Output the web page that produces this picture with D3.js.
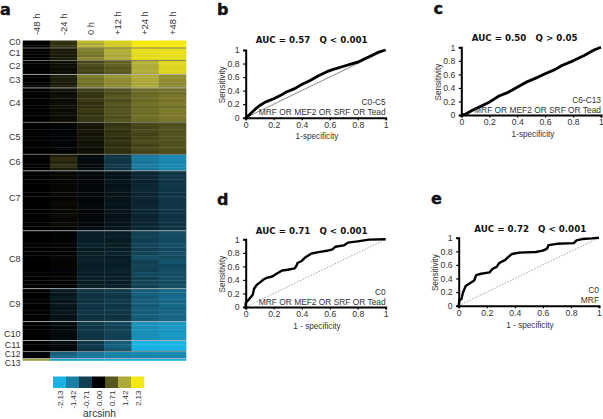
<!DOCTYPE html>
<html><head><meta charset="utf-8">
<script src="https://d3js.org/d3.v7.min.js"></script>
<style>
html,body{margin:0;padding:0;background:#fff}
svg{display:block}
text{font-family:"Liberation Sans",Arial,sans-serif;fill:#333}
</style></head><body>
<svg id="c" width="603" height="419"></svg>
<script>
const timepoints = ["-48 h","-24 h","0 h","+12 h","+24 h","+48 h"];
const clusterNames = ["C0","C1","C2","C3","C4","C5","C6","C7","C8","C9","C10","C11","C12","C13"];
const clusterSizes = [15,25,28,27,69,64,33,120,116,66,38,22,14,4];
const clusterRows = [
 [[0,.42,1.6,1.85,2.13,2.13],[0,.38,1.4,1.78,2.13,2.13],[0,.42,1.55,1.75,2.1,2.13]],
 [[0,.2,1.1,1.5,2.02,2.0],[0,.2,1.0,1.45,1.98,2.02],[0,.18,.95,1.38,1.95,1.98],[0,.22,1.15,1.48,2.0,2.0]],
 [[0,.12,.58,.8,1.5,1.95],[0,.1,.65,.82,1.45,1.92],[0,.12,.55,.72,1.42,1.88],[0,.1,.6,.76,1.48,1.92],[0,.08,.52,.7,1.45,1.88]],
 [[0,.26,1.05,1.25,1.45,1.2],[0,.22,.95,1.18,1.42,1.18],[0,.26,.98,1.15,1.4,1.15],[0,.2,.9,1.12,1.38,1.12],[0,.24,.95,1.15,1.4,1.15]],
 [[0,.14,.5,.68,.92,.95],[0,.1,.45,.62,.85,.92],[0,.13,.42,.72,.9,1.0],[0,.09,.48,.62,.86,.96],[0,.12,.42,.7,.93,1.03],[0,.13,.4,.64,.86,.92],[0,.1,.48,.7,.92,1.03],[0,.12,.42,.68,.88,1.0],[0,.09,.46,.64,.93,1.0],[0,.1,.43,.7,.9,.96]],
 [[0,-.03,.2,.42,.6,.64],[0,-.05,.16,.47,.56,.68],[0,-.05,.2,.4,.6,.66],[0,-.04,.14,.44,.53,.7],[0,-.06,.18,.38,.58,.68],[0,-.05,.12,.42,.62,.66],[0,-.04,.16,.38,.54,.68],[0,-.05,.1,.4,.6,.65],[0,-.03,.14,.38,.55,.64]],
 [[0,.25,-.08,-.6,-1.35,-1.55],[0,.38,-.12,-.62,-1.38,-1.58],[0,.3,-.1,-.58,-1.32,-1.52],[0,.4,-.08,-.64,-1.38,-1.55],[0,.22,-.13,-.6,-1.3,-1.5]],
 [[0,.04,-.08,-.22,-.42,-.6],[0,.06,-.1,-.2,-.45,-.62],[0,.03,-.07,-.25,-.4,-.58],[0,.05,-.09,-.2,-.42,-.63],[0,.04,-.07,-.24,-.45,-.6],[0,.08,-.1,-.2,-.4,-.57],[0,.03,-.06,-.22,-.44,-.62],[0,.09,-.08,-.25,-.4,-.6],[0,.05,-.1,-.2,-.42,-.58],[0,.07,-.07,-.23,-.45,-.62],[0,.1,-.07,-.2,-.4,-.58],[0,.04,-.09,-.24,-.43,-.61],[0,.08,-.08,-.2,-.4,-.57],[0,.03,-.1,-.24,-.44,-.6]],
 [[0,-.03,-.35,-.32,-.72,-.88],[0,-.05,-.32,-.36,-.76,-.85],[0,.02,-.35,-.3,-.7,-.82],[0,-.05,-.37,-.35,-.8,-.9],[0,.03,-.3,-.33,-.7,-.8],[0,-.04,-.35,-.38,-.75,-.87],[0,.04,-.33,-.3,-.9,-.82],[0,-.02,-.36,-.35,-.72,-.92],[0,.03,-.3,-.32,-.76,-.8],[0,-.05,-.34,-.38,-.72,-.87],[0,.02,-.32,-.33,-.82,-.84],[0,-.03,-.36,-.35,-.72,-.88],[0,.02,-.3,-.3,-.75,-.82],[0,-.04,-.34,-.36,-.72,-.86]],
 [[0,-.3,-.62,-.65,-1.05,-1.18],[0,-.25,-.58,-.62,-1.08,-1.14],[0,-.32,-.6,-.6,-1.02,-1.2],[0,-.22,-.56,-.66,-1.08,-1.12],[0,-.28,-.62,-.6,-1.0,-1.18],[0,-.2,-.56,-.64,-1.06,-1.1],[0,-.26,-.6,-.6,-1.02,-1.16],[0,-.18,-.56,-.55,-1.06,-1.12],[0,-.22,-.58,-.6,-1.0,-1.14]],
 [[0,-.12,-.63,-.8,-1.68,-1.72],[0,-.08,-.58,-.72,-1.62,-1.76],[0,-.13,-.62,-.76,-1.66,-1.72],[0,-.1,-.57,-.7,-1.62,-1.78],[0,-.12,-.6,-.72,-1.65,-1.75]],
 [[0,-.12,-.6,-1.02,-2.13,-2.13],[0,-.1,-.68,-1.1,-2.13,-2.13],[0,-.08,-.58,-.98,-2.1,-2.13]],
 [[0,-1.05,-1.3,-1.5,-1.55,-1.6],[0,-1.2,-1.35,-1.45,-1.5,-1.55]],
 [[1.3,-1.95,-2.0,-2.05,-2.1,-2.13]]
];
const legendValues = [-2.13,-1.42,-0.71,0.00,0.71,1.42,2.13];
const legendColors = ["#1ab3e3","#1a7fa6","#123f52","#000000","#57561f","#aeaa3a","#f5e912"];

const rocTicks = [0,0.2,0.4,0.6,0.8,1];
const curveB = [[0,0],[.03,.05],[.07,.13],[.1,.18],[.14,.23],[.2,.28],[.25,.33],[.29,.38],[.35,.43],[.4,.49],[.46,.55],[.52,.62],[.58,.68],[.62,.71],[.7,.76],[.75,.79],[.8,.82],[.85,.87],[.9,.92],[.95,.97],[1,1]];
const curveC = [[0,0],[.03,.01],[.08,.07],[.14,.13],[.2,.19],[.27,.28],[.33,.33],[.4,.41],[.47,.49],[.55,.56],[.6,.61],[.67,.67],[.72,.73],[.8,.8],[.88,.88],[.95,.96],[1,1]];
const curveD = [[0,0],[0,.06],[.03,.13],[.05,.18],[.06,.27],[.08,.33],[.1,.36],[.13,.41],[.15,.43],[.19,.45],[.22,.49],[.26,.54],[.3,.55],[.35,.57],[.365,.62],[.37,.65],[.4,.68],[.43,.74],[.47,.79],[.52,.81],[.58,.83],[.62,.85],[.64,.89],[.7,.91],[.73,.95],[.8,.97],[.88,.995],[1,1]];
const curveE = [[0,0],[.005,.08],[.02,.1],[.03,.19],[.05,.29],[.08,.33],[.11,.37],[.125,.45],[.16,.47],[.22,.49],[.24,.54],[.27,.57],[.29,.63],[.33,.67],[.35,.71],[.38,.76],[.43,.78],[.55,.79],[.6,.81],[.63,.84],[.64,.89],[.7,.91],[.82,.92],[.84,.96],[.88,.98],[.95,.99],[1,1]];
const panels = [
 {l:"b",lx:217,ly:15,x0:245.7,x1:385.7,y0:117.7,y1:50,curve:curveB,sw:2.8,title:"AUC = 0.57   Q < 0.001",tx:311.7,ty:42.5,xl:"1-specificity",xly:139,xlx:317,yl:"Sensitivity",ylx:225,note:["C0-C5","MRF OR MEF2 OR SRF OR Tead"],diag:"#555",dd:null},
 {l:"c",lx:433.5,ly:14,x0:461.3,x1:601,y0:115,y1:47.3,curve:curveC,sw:2.8,title:"AUC = 0.50   Q > 0.05",tx:524.7,ty:40.5,xl:"1-specificity",xly:137.3,xlx:533,yl:"Sensitivity",ylx:440.5,note:["C6-C13","MRF OR MEF2 OR SRF OR Tead"],diag:"#555",dd:null},
 {l:"d",lx:217,ly:205,x0:245.7,x1:385.7,y0:307,y1:239.3,curve:curveD,sw:2.4,title:"AUC = 0.71   Q < 0.001",tx:311.7,ty:233.5,xl:"1 - specificity",xly:329.3,xlx:317,yl:"Sensitivity",ylx:225,note:["C0","MRF OR MEF2 OR SRF OR Tead"],diag:"#777",dd:"1.5,1.5"},
 {l:"e",lx:431,ly:204,x0:458.7,x1:599,y0:305.7,y1:237.7,curve:curveE,sw:2.4,title:"AUC = 0.72   Q < 0.001",tx:530.3,ty:232,xl:"1 - specificity",xly:327.7,xlx:530,yl:"Sensitivity",ylx:438,note:["C0","MRF"],diag:"#777",dd:"1.5,1.5"}
];

const svg = d3.select("#c");
const xH = d3.scaleBand().domain(timepoints).range([22.7,186]);
const total = d3.sum(clusterSizes);
const yH = d3.scaleLinear().domain([0,total]).range([40.5,360.5]);
const color = d3.scaleLinear().domain(legendValues).range(legendColors).clamp(true);
const starts = d3.cumsum([0,...clusterSizes]);
const gH = svg.append("g");
clusterRows.forEach((rows,ci)=>{
  const rowY = d3.scaleBand().domain(d3.range(rows.length)).range([yH(starts[ci]),yH(starts[ci+1])]);
  rows.forEach((r,ri)=>{
    r.forEach((v,j)=>{
      gH.append("rect").attr("x",xH(timepoints[j])).attr("y",rowY(ri)).attr("width",xH.bandwidth()+.3).attr("height",rowY.bandwidth()+.3).attr("fill",color(v));
    });
  });
});
clusterSizes.slice(0,-1).forEach((s,i)=>{
  const y = yH(starts[i+1]);
  gH.append("line").attr("x1",22.7).attr("x2",186).attr("y1",y).attr("y2",y)
    .attr("stroke",i<2||i==4||i==5?"#77776c":(i==11?"#7f8a90":"#aab2b5")).attr("stroke-width",.9);
});
const labelBase = [44.5,56,69,83,105.5,139.5,165,201,262,306.5,336.5,347.5,357,365.5];
clusterNames.forEach((n,i)=>{
  svg.append("text").attr("x",20.5).attr("y",labelBase[i]).attr("text-anchor","end").attr("font-size",i>11?8.6:9).text(n);
});
timepoints.forEach(t=>{
  const cx = xH(t)+xH.bandwidth()/2;
  svg.append("text").attr("transform",`translate(${cx+3.2},35) rotate(-90)`).attr("font-size",9.4).text(t);
});
svg.append("text").attr("x",0).attr("y",14.5).attr("font-size",16).attr("font-weight","bold").attr("stroke","#111").attr("stroke-width",.4).style("font-family","'DejaVu Sans'").style("fill","#111").text("a");

const xL = d3.scaleBand().domain(legendValues).range([53,144]);
legendValues.forEach((v,i)=>{
  svg.append("rect").attr("x",xL(v)).attr("y",376.5).attr("width",xL.bandwidth()+.2).attr("height",11.5).attr("fill",legendColors[i]);
  svg.append("text").attr("transform",`translate(${xL(v)+xL.bandwidth()/2+3},390.5) rotate(-90)`).attr("text-anchor","end").attr("font-size",8).text(v.toFixed(2));
});
svg.append("text").attr("x",99.5).attr("y",416.6).attr("text-anchor","middle").attr("font-size",10.2).text("arcsinh");

panels.forEach(p=>{
  const g = svg.append("g");
  const x = d3.scaleLinear().domain([0,1]).range([p.x0,p.x1]);
  const y = d3.scaleLinear().domain([0,1]).range([p.y0,p.y1]);
  g.append("line").attr("x1",x(0)).attr("y1",y(0)).attr("x2",x(1)).attr("y2",y(1)).attr("stroke",p.diag).attr("stroke-width",.7).attr("stroke-dasharray",p.dd);
  const ax = g.append("g").attr("transform",`translate(0,${p.y0})`).call(d3.axisBottom(x).tickValues(rocTicks).tickFormat(d3.format("~g")).tickSize(2.5).tickPadding(1.3));
  const ay = g.append("g").attr("transform",`translate(${p.x0},0)`).call(d3.axisLeft(y).tickValues(rocTicks).tickFormat(d3.format("~g")).tickSize(2.5).tickPadding(3.5));
  [ax,ay].forEach(a=>{
    a.select(".domain").attr("stroke","#000").attr("stroke-width",2);
    a.selectAll(".tick line").attr("stroke","#000").attr("stroke-width",1.2);
    a.selectAll("text").attr("font-size",8.7).style("font-family","'Liberation Sans'").style("fill","#333");
  });
  g.append("path").datum(p.curve).attr("d",d3.line().x(d=>x(d[0])).y(d=>y(d[1]))).attr("fill","none").attr("stroke","#000").attr("stroke-width",p.sw).attr("stroke-linejoin","round");
  g.append("text").attr("x",p.tx).attr("y",p.ty).attr("text-anchor","middle").attr("font-size",8.7).attr("font-weight","bold").style("font-family","'DejaVu Sans'").style("fill","#111").style("white-space","pre").text(p.title);
  g.append("text").attr("x",p.xlx).attr("y",p.xly).attr("text-anchor","middle").attr("font-size",8.2).text(p.xl);
  g.append("text").attr("transform",`translate(${p.ylx},${(p.y0+p.y1)/2+1}) rotate(-90)`).attr("text-anchor","middle").attr("font-size",8.2).text(p.yl);
  g.append("text").attr("x",p.x1).attr("y",p.y0-12.5).attr("text-anchor","end").attr("font-size",8.4).text(p.note[0]);
  g.append("text").attr("x",p.x1).attr("y",p.y0-2.5).attr("text-anchor","end").attr("font-size",8.4).text(p.note[1]);
  g.append("text").attr("x",p.lx).attr("y",p.ly).attr("font-size",16).attr("font-weight","bold").attr("stroke","#111").attr("stroke-width",.4).style("font-family","'DejaVu Sans'").style("fill","#111").text(p.l);
});
</script></body></html>
